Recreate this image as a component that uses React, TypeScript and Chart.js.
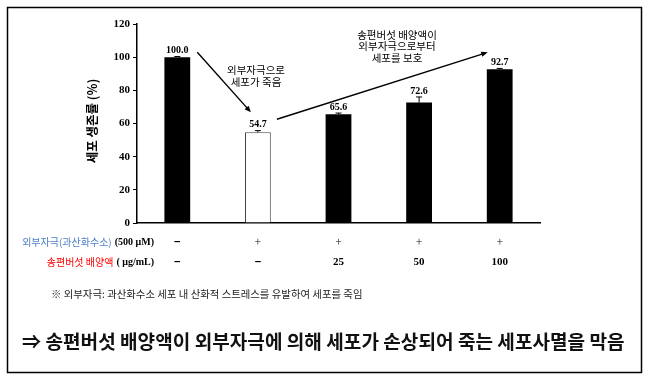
import React, { useEffect, useRef } from 'react';
import { Chart, registerables } from 'chart.js';

Chart.register(...registerables);

// ---- data ----
const groups = ['대조군', '외부자극', '25', '50', '100'];
const viability = [100.0, 54.7, 65.6, 72.6, 92.7];
const errors = [0.4, 1.0, 0.7, 3.4, 0.5];
const valueLabels = ['100.0', '54.7', '65.6', '72.6', '92.7'];
const barFill = ['#000000', '#ffffff', '#000000', '#000000', '#000000'];
const stimulusRow = ['−', '+', '+', '+', '+'];
const extractRow = ['−', '−', '25', '50', '100'];
const yTicks = [0, 20, 40, 60, 80, 100, 120];

const yTitle = '세포 생존률 (%)';
const note1 = ['외부자극으로', '세포가 죽음'];
const note2 = ['송편버섯 배양액이', '외부자극으로부터', '세포를 보호'];
const row1Label = '외부자극(과산화수소)';
const row1Unit = '(500 μM)';
const row2Label = '송편버섯 배양액';
const row2Unit = '( μg/mL)';
const footnote = '※ 외부자극: 과산화수소 세포 내 산화적 스트레스를 유발하여 세포를 죽임';
const conclusion = '⇒ 송편버섯 배양액이 외부자극에 의해 세포가 손상되어 죽는 세포사멸을 막음';

const KR = '"Noto Sans CJK KR", "Noto Sans", sans-serif';
const SERIF = '"Liberation Serif", "DejaVu Serif", serif';

function arrow(ctx: CanvasRenderingContext2D, x1: number, y1: number, x2: number, y2: number) {
  const ang = Math.atan2(y2 - y1, x2 - x1);
  const head = 7;
  ctx.save();
  ctx.strokeStyle = '#000';
  ctx.fillStyle = '#000';
  ctx.lineWidth = 1.4;
  ctx.beginPath();
  ctx.moveTo(x1, y1);
  ctx.lineTo(x2 - Math.cos(ang) * head * 0.6, y2 - Math.sin(ang) * head * 0.6);
  ctx.stroke();
  ctx.beginPath();
  ctx.moveTo(x2, y2);
  ctx.lineTo(x2 - head * Math.cos(ang - 0.4), y2 - head * Math.sin(ang - 0.4));
  ctx.lineTo(x2 - head * Math.cos(ang + 0.4), y2 - head * Math.sin(ang + 0.4));
  ctx.closePath();
  ctx.fill();
  ctx.restore();
}

function fitText(ctx: CanvasRenderingContext2D, text: string, weight: string, family: string, width: number, base: number) {
  ctx.font = `${weight} ${base}px ${family}`;
  const w = ctx.measureText(text).width;
  const size = (base * width) / w;
  ctx.font = `${weight} ${size}px ${family}`;
}

const decorPlugin = {
  id: 'decor',
  afterDraw(chart: any) {
    const ctx: CanvasRenderingContext2D = chart.ctx;
    const xs = chart.scales.x;
    const ys = chart.scales.y;
    const meta = chart.getDatasetMeta(0);
    ctx.save();

    // outer frame
    ctx.strokeStyle = '#000';
    ctx.lineWidth = 1.5;
    ctx.strokeRect(7.5, 7.5, 634, 365);

    // y title
    ctx.save();
    ctx.translate(92, 121);
    ctx.rotate(-Math.PI / 2);
    ctx.fillStyle = '#000';
    ctx.font = `bold 12.5px ${KR}`;
    ctx.textAlign = 'center';
    ctx.textBaseline = 'middle';
    ctx.fillText(yTitle, 0, 0);
    ctx.restore();

    // error bars + value labels
    meta.data.forEach((bar: any, i: number) => {
      const x = bar.x;
      const yTop = ys.getPixelForValue(viability[i] + errors[i]);
      const yBar = ys.getPixelForValue(viability[i]);
      ctx.strokeStyle = '#000';
      ctx.lineWidth = 1;
      ctx.beginPath();
      ctx.moveTo(x, yBar);
      ctx.lineTo(x, yTop);
      ctx.moveTo(x - 3, yTop);
      ctx.lineTo(x + 3, yTop);
      ctx.stroke();
      ctx.fillStyle = '#000';
      ctx.font = `bold 10px ${SERIF}`;
      ctx.textAlign = 'center';
      ctx.textBaseline = 'middle';
      ctx.fillText(valueLabels[i], x, yTop - 6);
    });

    // arrows
    const x0 = xs.getPixelForValue(0);
    const x1 = xs.getPixelForValue(1);
    const x4 = xs.getPixelForValue(4);
    arrow(ctx, x0 + 20, ys.getPixelForValue(viability[0]) - 5, x1 - 7, ys.getPixelForValue(viability[1]) - 20);
    arrow(ctx, x1 + 19, ys.getPixelForValue(viability[1]) - 13, x4 - 12, ys.getPixelForValue(viability[4]) - 17);

    // annotation notes
    ctx.fillStyle = '#000';
    ctx.font = `10.5px ${KR}`;
    ctx.textAlign = 'center';
    ctx.textBaseline = 'middle';
    note1.forEach((t, k) => ctx.fillText(t, 256, 70 + k * 12));
    note2.forEach((t, k) => ctx.fillText(t, 397, 35 + k * 11.5));

    // table rows
    const rowY1 = 242;
    const rowY2 = 262;
    const labelRight = 154;
    ctx.textAlign = 'right';
    ctx.font = `bold 10px ${SERIF}`;
    ctx.fillStyle = '#000';
    ctx.fillText(row1Unit, labelRight, rowY1);
    let w = ctx.measureText(row1Unit).width;
    ctx.font = `10px ${KR}`;
    ctx.fillStyle = '#4f7ec8';
    ctx.fillText(row1Label, labelRight - w - 3, rowY1);

    ctx.font = `bold 10px ${SERIF}`;
    ctx.fillStyle = '#000';
    ctx.fillText(row2Unit, labelRight, rowY2);
    w = ctx.measureText(row2Unit).width;
    ctx.font = `10px ${KR}`;
    ctx.fillStyle = '#ff0000';
    ctx.fillText(row2Label, labelRight - w - 3, rowY2);

    ctx.textAlign = 'center';
    groups.forEach((_, i) => {
      const cx = xs.getPixelForValue(i);
      const a = stimulusRow[i];
      if (a === '+') {
        ctx.font = `11px ${KR}`;
        ctx.fillStyle = '#555';
      } else {
        ctx.font = `bold 11px ${KR}`;
        ctx.fillStyle = '#000';
      }
      ctx.fillText(a, cx, rowY1);
      const b = extractRow[i];
      if (b === '−') {
        ctx.font = `bold 11px ${KR}`;
      } else {
        ctx.font = `bold 11px ${SERIF}`;
      }
      ctx.fillStyle = '#000';
      ctx.fillText(b, cx, rowY2);
    });

    // footnote
    ctx.textAlign = 'left';
    ctx.fillStyle = '#222';
    fitText(ctx, footnote, 'normal', KR, 312, 10);
    ctx.fillText(footnote, 51, 294);

    // conclusion
    ctx.fillStyle = '#111';
    fitText(ctx, conclusion, 'bold', KR, 603, 16);
    ctx.fillText(conclusion, 22, 342);

    ctx.restore();
  },
};

export default function App() {
  const ref = useRef<HTMLCanvasElement | null>(null);
  useEffect(() => {
    document.body.style.margin = '0';
    const canvas = ref.current!;
    const chart = new Chart(canvas, {
      type: 'bar',
      data: {
        labels: groups,
        datasets: [
          {
            data: viability,
            backgroundColor: barFill,
            borderColor: ['#000', '#444', '#000', '#000', '#000'],
            borderWidth: [0, { top: 1, left: 1, right: 1, bottom: 0 }, 0, 0, 0] as any,
            borderSkipped: false,
            barPercentage: 0.32,
            categoryPercentage: 1,
          },
        ],
      },
      options: {
        responsive: false,
        animation: false,
        devicePixelRatio: 1,
        layout: { padding: { left: 97, top: 24, right: 115, bottom: 159 } },
        plugins: {
          legend: { display: false },
          tooltip: { enabled: false },
        },
        scales: {
          x: {
            grid: { display: false },
            ticks: { display: false },
            border: { display: true, color: '#000', width: 1.5 },
            afterFit: (s: any) => {
              s.height = 0;
            },
          },
          y: {
            min: 0,
            max: 120,
            afterBuildTicks: (s: any) => {
              s.ticks = yTicks.map((v) => ({ value: v }));
            },
            grid: {
              drawOnChartArea: false,
              drawTicks: true,
              tickLength: 4,
              color: '#000',
            },
            border: { display: true, color: '#000', width: 1.5 },
            ticks: {
              padding: 3,
              color: '#000',
              font: { family: SERIF, size: 11, weight: 'bold' },
            },
            afterFit: (s: any) => {
              s.width = 40;
            },
          },
        },
      },
      plugins: [decorPlugin],
    });
    return () => chart.destroy();
  }, []);
  return (
    <div style={{ width: 655, height: 382, background: '#fff' }}>
      <canvas ref={ref} width={655} height={382} style={{ display: 'block' }} />
    </div>
  );
}
